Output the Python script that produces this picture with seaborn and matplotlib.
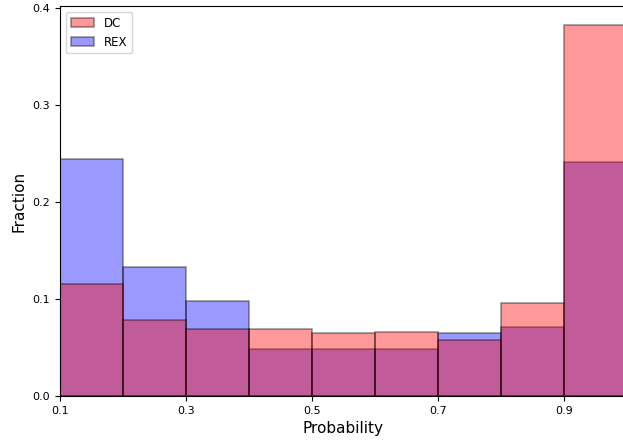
import numpy as np
import pandas as pd
import matplotlib
matplotlib.use('Agg')
import matplotlib.pyplot as plt
import seaborn as sns

# bin edges of the probability histogram
bin_edges = [0.1, 0.2, 0.3, 0.4, 0.5, 0.6, 0.7, 0.8, 0.9, 1.0]
dc_fraction = [0.116, 0.078, 0.0696, 0.069, 0.0648, 0.066, 0.058, 0.0958, 0.383]
rex_fraction = [0.245, 0.133, 0.098, 0.049, 0.049, 0.049, 0.0648, 0.0716, 0.241]
x_ticks = [0.1, 0.3, 0.5, 0.7, 0.9]

centers = [(a + b) / 2 for a, b in zip(bin_edges[:-1], bin_edges[1:])]
df = pd.DataFrame({
    'Probability': centers * 2,
    'Fraction': dc_fraction + rex_fraction,
    'method': ['DC'] * len(centers) + ['REX'] * len(centers),
})

fig = plt.figure(figsize=(6.23, 4.4), dpi=100)
ax = fig.add_axes([60 / 623, 44 / 440, 567 / 623, 390 / 440])

# REX underneath, DC on top (gives the magenta overlap)
for name, colour in [('REX', 'blue'), ('DC', 'red')]:
    sub = df[df['method'] == name]
    sns.histplot(x=sub['Probability'], weights=sub['Fraction'], bins=bin_edges,
                 color=colour, alpha=0.4, edgecolor=(0, 0, 0, 0.4), linewidth=1.2,
                 label=name, ax=ax)

ax.set_xlim(0.1, 1.0)
ax.set_ylim(0, 0.4025)
ax.set_xticks(x_ticks)
ax.set_xticklabels([f'{t:.1f}' for t in x_ticks])
ax.set_yticks([0.0, 0.1, 0.2, 0.3, 0.4])
ax.tick_params(labelsize=8)
ax.set_xlabel('Probability', fontsize=11)
ax.set_ylabel('Fraction', fontsize=11)
handles, labels = ax.get_legend_handles_labels()
ax.legend(handles[::-1], labels[::-1], loc='upper left', fontsize=8.5)

fig.savefig('out.png', dpi=100)
